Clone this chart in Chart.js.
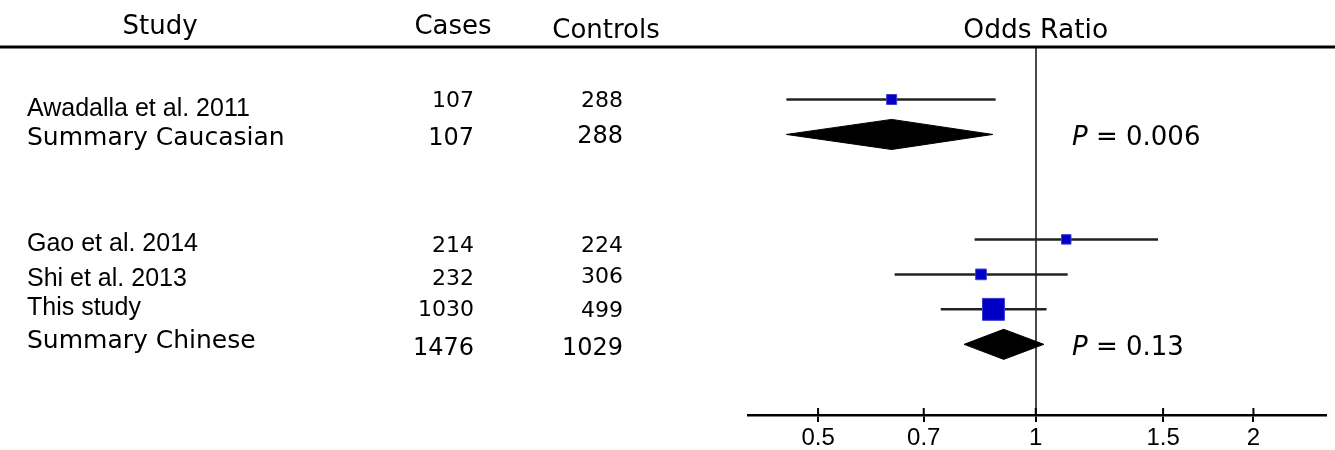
<!DOCTYPE html>
<html>
<head>
<meta charset="utf-8">
<script src="https://cdn.jsdelivr.net/npm/chart.js@4.4.1/dist/chart.umd.min.js"></script>
<style>
  html, body { margin: 0; padding: 0; background: #fff; }
  #wrap { width: 1335px; height: 450px; position: relative; }
</style>
</head>
<body>
<div id="wrap"><canvas id="forest"></canvas></div>
<script>
// individual studies
const studies = ['Awadalla et al. 2011', 'Gao et al. 2014', 'Shi et al. 2013', 'This study'];
const studyRows = [0, 4, 5, 6];
const studyCases = [107, 214, 232, 1030];
const studyControls = [288, 224, 306, 499];
const studyOR = [0.632, 1.102, 0.840, 0.874];
const studyLow = [0.452, 0.823, 0.638, 0.739];
const studyHigh = [0.880, 1.476, 1.107, 1.035];
const studyWeight = [12.7, 11.4, 14.5, 61.4];

// pooled estimates
const summaries = ['Summary Caucasian', 'Summary Chinese'];
const summaryRows = [1, 7];
const summaryCases = [107, 1476];
const summaryControls = [288, 1029];
const summaryOR = [0.632, 0.903];
const summaryLow = [0.452, 0.796];
const summaryHigh = [0.872, 1.026];
const summaryP = ['0.006', '0.13'];

const xTicks = [0.5, 0.7, 1, 1.5, 2];

const VERDANA = '"DejaVu Sans", Verdana, sans-serif';
const ARIAL = '"Liberation Sans", Arial, sans-serif';

// text baseline offsets (px) from each row's centre
const studyLabelDy = [17, 12, 12, 6];
const studyCasesDy = [8, 13, 11, 7];
const studyCtrlDy = [8, 13, 9, 8];
const sumLabelDy = [11, 4];
const sumCasesDy = [11, 11];
const sumCtrlDy = [9, 11];

const tablePlugin = {
  id: 'forestTable',
  afterDraw(chart) {
    const ctx = chart.ctx, xs = chart.scales.x, ys = chart.scales.y, area = chart.chartArea;
    ctx.save();
    // header rule
    ctx.strokeStyle = '#000';
    ctx.lineWidth = 3;
    ctx.beginPath(); ctx.moveTo(0, area.top); ctx.lineTo(chart.width, area.top); ctx.stroke();
    // tick marks above the axis line
    ctx.lineWidth = 2;
    xTicks.forEach(v => {
      const px = xs.getPixelForValue(v);
      ctx.beginPath(); ctx.moveTo(px, area.bottom); ctx.lineTo(px, area.bottom - 7); ctx.stroke();
    });

    ctx.fillStyle = '#000';
    ctx.textBaseline = 'alphabetic';
    const txt = (s, x, y, font, align) => { ctx.font = font; ctx.textAlign = align; ctx.fillText(s, x, y); };

    txt('Study', 160, 34, '26px ' + VERDANA, 'center');
    txt('Cases', 453, 34, '26px ' + VERDANA, 'center');
    txt('Controls', 606, 38, '26px ' + VERDANA, 'center');
    txt('Odds Ratio', xs.getPixelForValue(1), 38, '26.5px ' + VERDANA, 'center');

    studies.forEach((s, i) => {
      const y = ys.getPixelForValue(studyRows[i]);
      txt(s, 27, y + studyLabelDy[i], '25px ' + ARIAL, 'left');
      txt(String(studyCases[i]), 474, y + studyCasesDy[i], '22px ' + VERDANA, 'right');
      txt(String(studyControls[i]), 623, y + studyCtrlDy[i], '22px ' + VERDANA, 'right');
    });
    summaries.forEach((s, i) => {
      const y = ys.getPixelForValue(summaryRows[i]);
      txt(s, 27, y + sumLabelDy[i], '25px ' + VERDANA, 'left');
      txt(String(summaryCases[i]), 474, y + sumCasesDy[i], '24px ' + VERDANA, 'right');
      txt(String(summaryControls[i]), 623, y + sumCtrlDy[i], '24px ' + VERDANA, 'right');
      // p value, italic P
      const px = 1072, py = y + 11;
      ctx.font = 'italic 26px ' + VERDANA;
      ctx.textAlign = 'left';
      ctx.fillText('P', px, py);
      const w = ctx.measureText('P').width;
      ctx.font = '26px ' + VERDANA;
      ctx.fillText(' = ' + summaryP[i], px + w, py);
    });
    ctx.restore();
  }
};

const ciSets = studies.map((s, i) => ({
  type: 'line',
  data: [{ x: studyLow[i], y: studyRows[i] }, { x: studyHigh[i], y: studyRows[i] }],
  borderColor: '#222',
  borderWidth: 2.5,
  pointRadius: 0,
  order: 3
}));

const squareSet = {
  type: 'scatter',
  data: studies.map((s, i) => ({ x: studyOR[i], y: studyRows[i] })),
  pointStyle: 'rect',
  pointRadius: studyWeight.map(w => 2.8 * Math.sqrt(w) / Math.SQRT2),
  backgroundColor: '#0000c4',
  borderColor: '#3c3cd2',
  borderWidth: 1,
  order: 1
};

const DIAMOND_HALF = 0.43;
const diamondSets = summaries.map((s, i) => ({
  type: 'line',
  data: [
    { x: summaryLow[i], y: summaryRows[i] },
    { x: summaryOR[i], y: summaryRows[i] - DIAMOND_HALF },
    { x: summaryHigh[i], y: summaryRows[i] },
    { x: summaryOR[i], y: summaryRows[i] + DIAMOND_HALF },
    { x: summaryLow[i], y: summaryRows[i] }
  ],
  fill: 'shape',
  borderColor: '#000',
  backgroundColor: '#000',
  borderWidth: 1,
  pointRadius: 0,
  tension: 0,
  order: 2
}));

new Chart(document.getElementById('forest'), {
  type: 'scatter',
  data: { datasets: [...ciSets, ...diamondSets, squareSet] },
  options: {
    responsive: true,
    maintainAspectRatio: false,
    animation: false,
    layout: { autoPadding: false, padding: { left: 748, right: 9, top: 47, bottom: 0 } },
    plugins: { legend: { display: false }, tooltip: { enabled: false } },
    scales: {
      x: {
        type: 'logarithmic',
        min: 0.4,
        max: 2.52,
        afterBuildTicks: (s) => { s.ticks = xTicks.map(v => ({ value: v })); },
        afterFit: (s) => { s.height = 35; s.paddingLeft = 0; s.paddingRight = 0; },
        ticks: {
          autoSkip: false,
          maxRotation: 0,
          padding: 2,
          color: '#000',
          font: { family: ARIAL, size: 24 },
          callback: (v) => String(v)
        },
        grid: {
          drawOnChartArea: true,
          color: (c) => (c.tick && c.tick.value === 1 ? '#4a4a4a' : 'rgba(0,0,0,0)'),
          lineWidth: 2,
          tickColor: '#000',
          tickLength: 7,
          tickWidth: 2
        },
        border: { display: true, color: '#000', width: 2.5 }
      },
      y: {
        type: 'linear',
        min: -1.5,
        max: 9.02,
        reverse: true,
        display: false
      }
    }
  },
  plugins: [tablePlugin]
});
</script>
</body>
</html>
